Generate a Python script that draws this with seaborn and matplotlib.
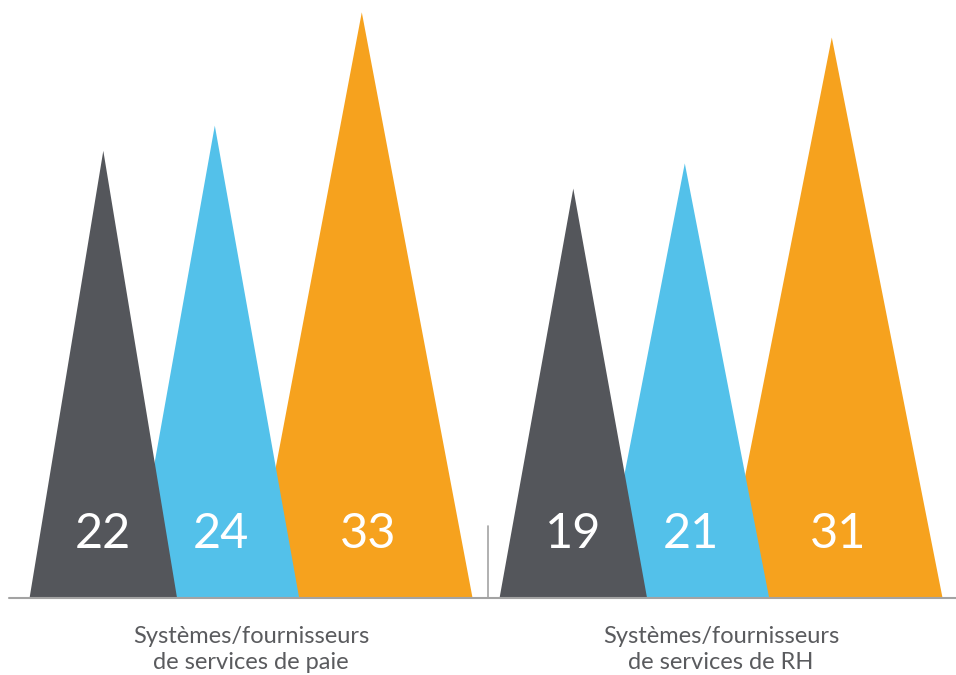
import numpy as np
import matplotlib
matplotlib.use("Agg")
import matplotlib.pyplot as plt
import pandas as pd
import seaborn as sns

# data
groups = ["Systèmes/fournisseurs\nde services de paie",
          "Systèmes/fournisseurs\nde services de RH"]
series = ["s1", "s2", "s3"]
values_paie = [22, 24, 33]
values_rh = [19, 21, 31]
colors = ["#54565B", "#53C1EA", "#F6A21E"]

df = pd.DataFrame({
    "group": np.repeat(groups, 3),
    "series": series * 2,
    "value": values_paie + values_rh,
})

# layout (pixel-like x units, data y units)
BASE = -13.5
group_x0 = [103.3, 573.3]
series_off = [0, 111.5, 258.5]
half_w = [73.7, 84.3, 110.7]
label_shift = [0, 6, 6]

sns.set_theme(style="white")
plt.rcParams["font.family"] = ["Lato", "DejaVu Sans"]

fig = plt.figure(figsize=(9.56, 6.75), dpi=100)
ax = fig.add_axes([0, 0, 1, 1])
ax.set_xlim(0, 956)
ax.set_ylim(-19.64, 33.98)
ax.axis("off")

for gi, g in enumerate(groups):
    sub = df[df.group == g].reset_index(drop=True)
    for si, row in sub.iterrows():
        cx = group_x0[gi] + series_off[si]
        hw = half_w[si]
        ax.fill([cx - hw, cx, cx + hw], [BASE, row.value, BASE],
                color=colors[si], lw=0, zorder=4 - si)
        ax.text(cx + label_shift[si], BASE + 5.05, str(row.value),
                ha="center", va="center", color="white",
                fontsize=35, fontweight="normal", zorder=10)
    left = group_x0[gi] - half_w[0]
    right = group_x0[gi] + series_off[2] + half_w[2]
    ax.text((left + right) / 2, BASE - 2.25, g, ha="center", va="top",
            color="#5A5B5E", fontsize=17, fontweight="normal",
            linespacing=1.3)

ax.plot([9, 956], [BASE, BASE], color="#A3A3A3", lw=1.5, zorder=6)
ax.plot([488.3, 488.3], [BASE, BASE + 5.7], color="#A3A3A3", lw=1.2, zorder=6)

fig.savefig("out.png", dpi=100)
